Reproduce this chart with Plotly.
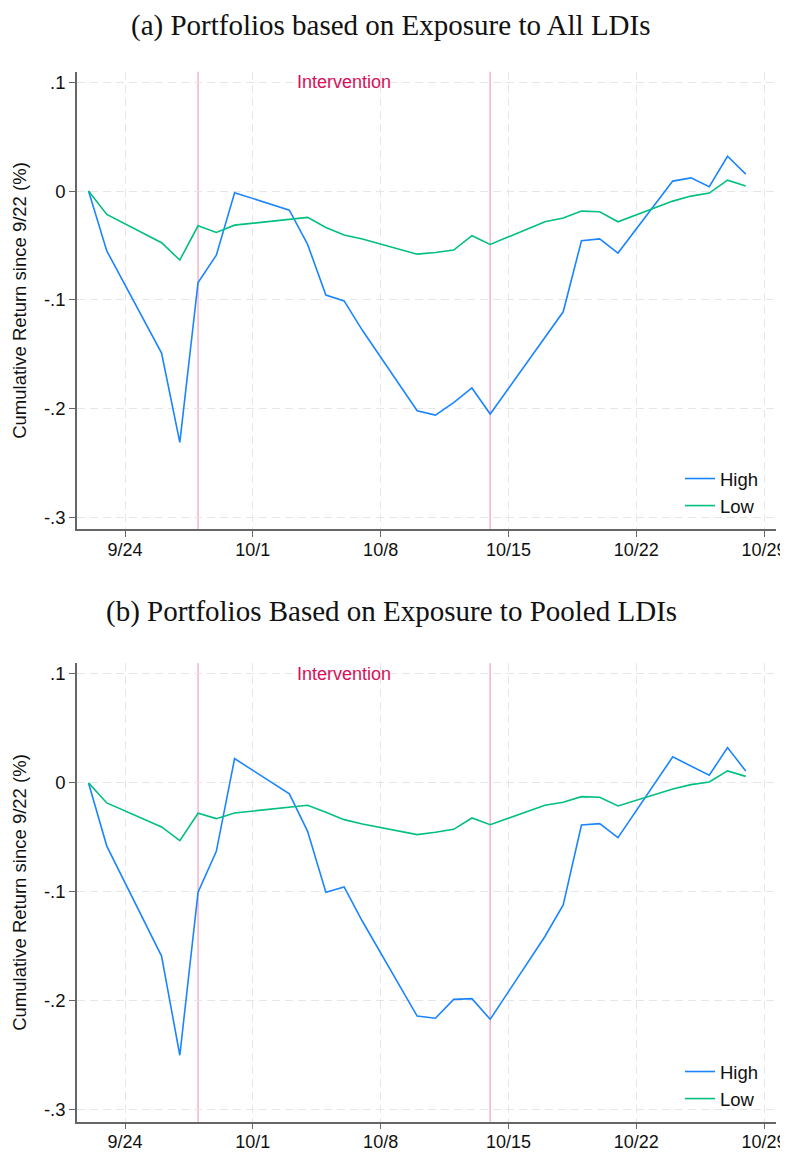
import plotly.graph_objects as go

dates = ["2022-09-22", "2022-09-23", "2022-09-26", "2022-09-27", "2022-09-28", "2022-09-29", "2022-09-30",
         "2022-10-03", "2022-10-04", "2022-10-05", "2022-10-06", "2022-10-07",
         "2022-10-10", "2022-10-11", "2022-10-12", "2022-10-13", "2022-10-14",
         "2022-10-17", "2022-10-18", "2022-10-19", "2022-10-20", "2022-10-21",
         "2022-10-24", "2022-10-25", "2022-10-26", "2022-10-27", "2022-10-28"]

high_all = [0.0, -0.055, -0.149, -0.231, -0.084, -0.059, -0.0015,
            -0.0175, -0.049, -0.0956, -0.101, -0.128,
            -0.202, -0.206, -0.1946, -0.181, -0.205,
            -0.135, -0.111, -0.0457, -0.044, -0.057,
            0.0092, 0.0122, 0.004, 0.032, 0.0156]
low_all = [0.0, -0.0215, -0.0475, -0.0634, -0.0319, -0.038, -0.0313,
           -0.026, -0.0242, -0.0334, -0.0404, -0.044,
           -0.058, -0.0564, -0.0542, -0.041, -0.049,
           -0.0282, -0.0248, -0.0184, -0.019, -0.0282,
           -0.0092, -0.0046, -0.0018, 0.0101, 0.0046]

high_pooled = [0.0, -0.058, -0.159, -0.250, -0.1004, -0.0628, 0.0223,
               -0.0101, -0.0444, -0.1004, -0.0955, -0.127,
               -0.214, -0.216, -0.1987, -0.198, -0.217,
               -0.141, -0.112, -0.0386, -0.0374, -0.0502,
               0.0239, 0.0156, 0.007, 0.0324, 0.011]
low_pooled = [0.0, -0.0184, -0.0404, -0.053, -0.0279, -0.0328, -0.0276,
              -0.0224, -0.0205, -0.027, -0.0337, -0.0377,
              -0.0475, -0.0453, -0.0426, -0.0322, -0.0383,
              -0.0205, -0.0178, -0.0126, -0.0132, -0.0211,
              -0.0055, -0.0016, 0.0009, 0.011, 0.006]

titles = ["(a) Portfolios based on Exposure to All LDIs",
          "(b) Portfolios Based on Exposure to Pooled LDIs"]
series_names = ["High", "Low"]
intervention_dates = ["2022-09-28", "2022-10-14"]
intervention_label = "Intervention"
intervention_mid = "2022-10-06"
ytick_vals = [0.1, 0.0, -0.1, -0.2, -0.3]
ytick_text = [".1", "0", "-.1", "-.2", "-.3"]
xtick_vals = ["2022-09-24", "2022-10-01", "2022-10-08", "2022-10-15", "2022-10-22", "2022-10-29"]
xtick_text = ["9/24", "10/1", "10/8", "10/15", "10/22", "10/29"]
ytitle = "Cumulative Return since 9/22 (%)"

BLUE = "#1a85ff"
GREEN = "#00bf7f"
RED = "#d41159"
PINK = "rgb(247,178,200)"
GRID = "#e6e6e6"
AXIS = "#666666"
SANS = "Liberation Sans, Arial, sans-serif"

# page has an 8px body margin; work in page pixel coordinates
OFF = 8
W = 788 - OFF
H = 1153 - OFF
L = 77 - OFF
R = 788 - 776
PW = W - L - R

def py(p):
    return 1 - (p - OFF) / H

def pxx(p):
    return (p - OFF - L) / PW

domains = [[py(529.3), py(71.7)], [py(1121.7), py(663.3)]]

fig = go.Figure()
panels = [(high_all, low_all), (high_pooled, low_pooled)]
for i, (hi, lo) in enumerate(panels):
    xa = "x" if i == 0 else "x2"
    ya = "y" if i == 0 else "y2"
    lg = "legend" if i == 0 else "legend2"
    fig.add_trace(go.Scatter(x=dates, y=hi, mode="lines", name=series_names[0],
                             line=dict(color=BLUE, width=1.6), xaxis=xa, yaxis=ya, legend=lg))
    fig.add_trace(go.Scatter(x=dates, y=lo, mode="lines", name=series_names[1],
                             line=dict(color=GREEN, width=1.6), xaxis=xa, yaxis=ya, legend=lg))

xrange = ["2022-09-21 08:50", "2022-10-29 15:45"]
yrange = [-0.311, 0.1098]

axis_common_x = dict(type="date", range=xrange, tickvals=xtick_vals, ticktext=xtick_text,
                     showline=True, linecolor=AXIS, linewidth=1.5, ticks="outside", ticklen=6,
                     tickcolor=AXIS, tickwidth=1.2, showgrid=True, gridcolor=GRID, gridwidth=1.3,
                     griddash="8px,5px", zeroline=False, automargin=False, ticklabelstandoff=-3,
                     tickfont=dict(family=SANS, size=18, color="#111"))
axis_common_y = dict(range=yrange, tickvals=ytick_vals, ticktext=ytick_text,
                     showline=True, linecolor=AXIS, linewidth=1.5, ticks="outside", ticklen=6,
                     tickcolor=AXIS, tickwidth=1.2, showgrid=True, gridcolor=GRID, gridwidth=1.3,
                     griddash="8px,5px", zeroline=False, automargin=False,
                     tickfont=dict(family=SANS, size=18.5, color="#111"),
                     title=dict(text=ytitle, standoff=12,
                                font=dict(family=SANS, size=18.5, color="#111")))

fig.update_layout(
    width=W, height=H,
    margin=dict(l=L, r=R, t=0, b=0, autoexpand=False),
    paper_bgcolor="white", plot_bgcolor="white",
    xaxis=dict(**axis_common_x, anchor="y", domain=[0, 1]),
    yaxis=dict(**axis_common_y, anchor="x", domain=domains[0]),
    xaxis2=dict(**axis_common_x, anchor="y2", domain=[0, 1]),
    yaxis2=dict(**axis_common_y, anchor="x2", domain=domains[1]),
    legend=dict(x=pxx(764), xanchor="right", y=py(525), yanchor="bottom",
                bgcolor="rgba(0,0,0,0)", font=dict(family=SANS, size=18.5, color="#111"),
                tracegroupgap=0, itemwidth=30),
    legend2=dict(x=pxx(764), xanchor="right", y=py(1118), yanchor="bottom",
                 bgcolor="rgba(0,0,0,0)", font=dict(family=SANS, size=18.5, color="#111"),
                 tracegroupgap=0, itemwidth=30),
    showlegend=True,
)

shapes = []
annotations = []
for i in range(2):
    xa = "x" if i == 0 else "x2"
    ya = "y" if i == 0 else "y2"
    for d in intervention_dates:
        shapes.append(dict(type="line", xref=xa, yref=ya + " domain", x0=d, x1=d, y0=0, y1=1,
                           line=dict(color=PINK, width=1.5), layer="below"))
    annotations.append(dict(xref=xa, yref=ya, x=intervention_mid, y=0.1, text=intervention_label,
                            showarrow=False, font=dict(family=SANS, size=18, color=RED)))
    annotations.append(dict(xref="paper", yref="paper", x=pxx(391), y=py(8 if i == 0 else 594),
                            xanchor="center", yanchor="top", text=titles[i], showarrow=False,
                            borderpad=0,
                            font=dict(family="Liberation Serif, Times New Roman, serif", size=29, color="#111")))
fig.update_layout(shapes=shapes, annotations=annotations)

fig.write_html("out.html")
